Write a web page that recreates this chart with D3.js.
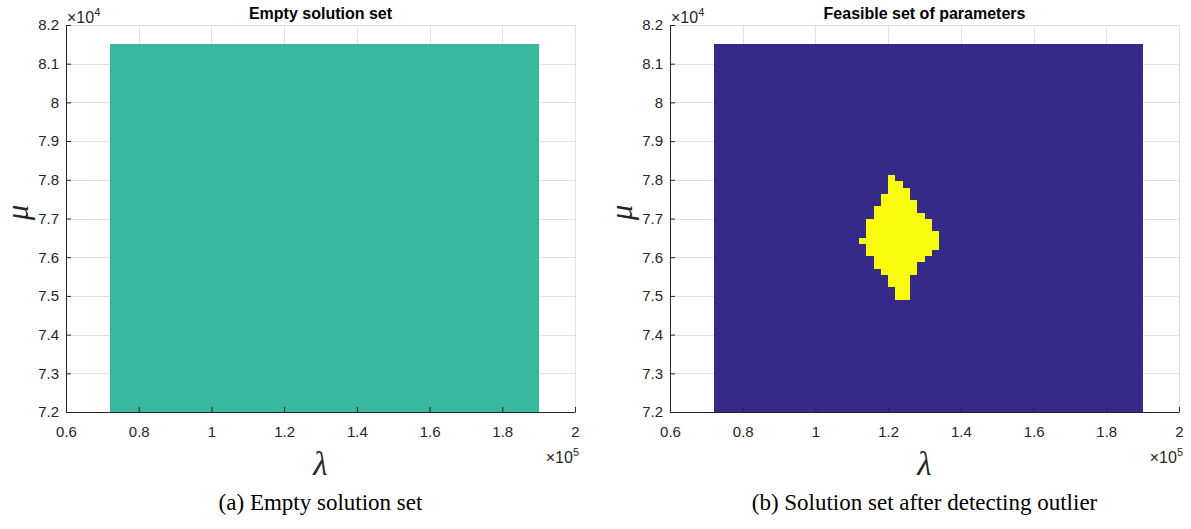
<!DOCTYPE html>
<html>
<head>
<meta charset="utf-8">
<script src="https://cdn.jsdelivr.net/npm/d3@7"></script>
<style>
  body { margin: 0; background: #fff; }
  text { font-family: "Liberation Sans", Arial, sans-serif; }
</style>
</head>
<body>
<div id="chart-area"></div>
<script>
// axis ticks (raw units, shown as x10^5 and x10^4)
const lambdaTicks = [60000, 80000, 100000, 120000, 140000, 160000, 180000, 200000]
const muTicks = [72000, 73000, 74000, 75000, 76000, 77000, 78000, 79000, 80000, 81000, 82000]

// parameter grid that was searched
const lambdaRange = [72000, 190000]
const muRange = [72000, 81500]
const muStep = 9500 / 59

// feasible cells of panel (b): grid row index and lambda span of each row
const feasibleRow  = [37, 36, 35, 34, 33, 32, 31, 30, 29, 28, 27, 26, 25, 24, 23, 22, 21, 20, 19, 18]
const feasibleFrom = [120000, 120000, 120000, 118000, 118000, 116000, 116000, 114000, 114000, 114000,
                      112000, 114000, 114000, 116000, 116000, 118000, 120000, 120000, 122000, 122000]
const feasibleTo   = [122000, 124000, 126000, 126000, 128000, 128000, 130000, 132000, 132000, 134000,
                      134000, 134000, 132000, 130000, 128000, 128000, 126000, 126000, 126000, 126000]

const panels = [
    { left: 66, title: "Empty solution set", caption: "(a) Empty solution set", bg: "#38b89c", feasible: false },
    { left: 670, title: "Feasible set of parameters", caption: "(b) Solution set after detecting outlier", bg: "#352a87", feasible: true }
]

const marginTop = 25, width = 509, height = 387

const svg = d3.select("#chart-area").append("svg")
    .attr("width", 1191)
    .attr("height", 529)

panels.forEach(function(p){
    const g = svg.append("g")
        .attr("transform", "translate(" + p.left + "," + marginTop + ")")

    const x = d3.scaleLinear().domain([60000, 200000]).range([0, width])
    const y = d3.scaleLinear().domain([72000, 82000]).range([height, 0])

    // grid lines
    g.append("g").selectAll("line")
        .data(lambdaTicks)
        .enter().append("line")
            .attr("x1", d => Math.round(x(d)) + 0.5)
            .attr("x2", d => Math.round(x(d)) + 0.5)
            .attr("y1", 0)
            .attr("y2", height)
            .attr("stroke", "#e1e1e1")
    g.append("g").selectAll("line")
        .data(muTicks)
        .enter().append("line")
            .attr("x1", 0)
            .attr("x2", width)
            .attr("y1", d => Math.round(y(d)) + 0.5)
            .attr("y2", d => Math.round(y(d)) + 0.5)
            .attr("stroke", "#e1e1e1")

    // image of the grid
    g.append("rect")
        .attr("x", x(lambdaRange[0]))
        .attr("y", y(muRange[1]))
        .attr("width", x(lambdaRange[1]) - x(lambdaRange[0]))
        .attr("height", y(muRange[0]) - y(muRange[1]))
        .attr("fill", p.bg)
        .attr("shape-rendering", "crispEdges")

    if (p.feasible) {
        g.append("g").selectAll("rect")
            .data(feasibleRow)
            .enter().append("rect")
                .attr("x", (d, i) => x(feasibleFrom[i]))
                .attr("width", (d, i) => x(feasibleTo[i]) - x(feasibleFrom[i]))
                .attr("y", d => y(muRange[0] + (d + 1) * muStep))
                .attr("height", d => y(muRange[0] + d * muStep) - y(muRange[0] + (d + 1) * muStep))
                .attr("fill", "#f9fb0e")
                .attr("shape-rendering", "crispEdges")
    }

    // axes, ticks pointing inward
    const xAxisCall = d3.axisBottom(x)
        .tickValues(lambdaTicks)
        .tickSizeInner(-5)
        .tickSizeOuter(0)
        .tickPadding(14)
        .tickFormat(d => +(d / 1e5).toFixed(1))
    const xa = g.append("g")
        .attr("transform", "translate(0," + height + ")")
        .call(xAxisCall)

    const yAxisCall = d3.axisLeft(y)
        .tickValues(muTicks)
        .tickSizeInner(-5)
        .tickSizeOuter(0)
        .tickPadding(7)
        .tickFormat(d => +(d / 1e4).toFixed(1))
    const ya = g.append("g")
        .call(yAxisCall)

    ;[xa, ya].forEach(function(a){
        a.select(".domain").attr("stroke", "#262626")
        a.selectAll(".tick line").attr("stroke", "#262626")
        a.selectAll(".tick text")
            .attr("fill", "#262626")
            .attr("font-size", "15px")
            .attr("font-family", "Liberation Sans, Arial, sans-serif")
    })

    // exponent labels
    const e4 = g.append("text")
        .attr("x", 1)
        .attr("y", -2)
        .attr("font-size", "16px")
        .attr("fill", "#262626")
    e4.append("tspan").text("\u00d710")
    e4.append("tspan").attr("font-size", "11px").attr("dy", -7).text("4")

    const e5 = g.append("text")
        .attr("x", width + 4)
        .attr("y", height + 51)
        .attr("text-anchor", "end")
        .attr("font-size", "16px")
        .attr("fill", "#262626")
    e5.append("tspan").text("\u00d710")
    e5.append("tspan").attr("font-size", "11px").attr("dy", -7).text("5")

    // title
    g.append("text")
        .attr("x", width / 2)
        .attr("y", -6)
        .attr("text-anchor", "middle")
        .attr("font-size", "16px")
        .attr("font-weight", "bold")
        .attr("fill", "#000")
        .text(p.title)

    // axis labels
    g.append("text")
        .attr("x", width / 2)
        .attr("y", height + 63)
        .attr("text-anchor", "middle")
        .attr("font-size", "33px")
        .attr("font-style", "italic")
        .style("font-family", "Liberation Serif, serif")
        .attr("fill", "#262626")
        .text("\u03bb")

    g.append("text")
        .attr("x", -height / 2 + 6)
        .attr("y", -38)
        .attr("transform", "rotate(-90)")
        .attr("text-anchor", "middle")
        .attr("font-size", "31px")
        .attr("font-style", "italic")
        .style("font-family", "Liberation Serif, serif")
        .attr("fill", "#262626")
        .text("\u03bc")

    // caption
    g.append("text")
        .attr("x", width / 2)
        .attr("y", height + 98)
        .attr("text-anchor", "middle")
        .attr("font-size", "23px")
        .style("font-family", "Liberation Serif, serif")
        .attr("fill", "#000")
        .text(p.caption)
})
</script>
</body>
</html>
